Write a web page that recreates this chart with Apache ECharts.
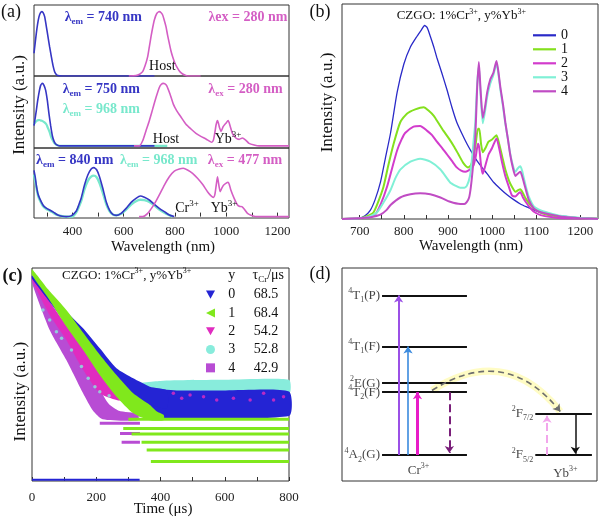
<!DOCTYPE html>
<html><head><meta charset="utf-8">
<script src="https://cdn.jsdelivr.net/npm/echarts@6/dist/echarts.min.js"></script>
<style>html,body{margin:0;padding:0;background:#fff}#c{width:600px;height:519px}</style>
</head><body><div id="c"></div>
<script>
const FONT = "'Liberation Serif','Times New Roman',serif";

// ================= Panel (a): excitation / emission spectra =================
const aTicks = [300,400,500,600,700,800,900,1000,1100,1200];
const aTickLabels = [400,600,800,1000,1200];
const aTopExcBlue = [[250,0.32],[259,0.6],[264,0.73],[269.6,0.836],[275,0.89],[281,0.906],[286,0.89],[291.6,0.836],[298,0.7],[304.5,0.554],[311,0.41],[317.6,0.274],[324,0.15],[330.5,0.061],[337,0.02],[343,0.005],[360,0],[720,0]];
const aTopEmMag = [[620,0],[648,0.005],[662,0.025],[674,0.061],[684,0.15],[693.6,0.272],[700,0.41],[706.6,0.554],[713,0.68],[719.6,0.789],[729,0.88],[739,0.906],[745,0.895],[752,0.859],[758,0.79],[765,0.695],[771,0.58],[778,0.46],[784,0.36],[791,0.272],[800,0.18],[810.5,0.108],[820,0.058],[830,0.028],[840,0.01],[849,0],[900,0]];
const aMidExcBlue = [[250,0.28],[259,0.49],[264,0.62],[269.6,0.74],[276,0.84],[282.6,0.868],[289,0.84],[295.6,0.77],[302,0.63],[308.6,0.44],[315,0.28],[321.6,0.14],[328,0.065],[334.6,0.026],[342,0.008],[350,0],[720,0]];
const aMidExcCyan = [[250,0.30],[256,0.33],[261.6,0.35],[267,0.357],[272,0.359],[278,0.35],[285,0.34],[291,0.325],[298,0.30],[304,0.25],[311,0.19],[317,0.12],[324,0.07],[330,0.035],[337,0.016],[345,0.005],[355,0],[770,0]];
const aMidEmMag = [[640,0],[661,0],[674,0.07],[687,0.21],[700,0.35],[713,0.51],[726,0.67],[739,0.81],[747,0.855],[754.6,0.868],[761,0.86],[767.6,0.836],[780.6,0.72],[793.6,0.58],[806.6,0.49],[823.5,0.40],[843,0.30],[862.5,0.234],[882,0.174],[901,0.132],[921,0.095],[935,0.065],[944,0.049],[950,0.08],[955,0.17],[961,0.30],[966,0.35],[970,0.31],[974,0.25],[980,0.20],[988,0.266],[998.6,0.313],[1007.6,0.35],[1015,0.28],[1024,0.174],[1037.5,0.109],[1050.5,0.09],[1063,0.109],[1076,0.08],[1089,0.035],[1109,0.012],[1128,0],[1245,0]];
const aBotExcBlue = [[250,0.66],[255,0.56],[259,0.45],[265,0.33],[272,0.26],[285,0.166],[298,0.12],[311,0.094],[327,0.06],[343,0.023],[360,0.005],[376,0],[395,0.01],[415,0.08],[425,0.17],[434,0.261],[447,0.451],[460,0.594],[473,0.68],[483.5,0.699],[495,0.666],[505.6,0.57],[518.5,0.404],[531.7,0.213],[544.6,0.094],[557.4,0.032],[570.6,0.018],[590,0.047],[609.5,0.118],[629,0.204],[648,0.261],[665,0.294],[680.7,0.275],[700,0.237],[719.6,0.175],[739,0.118],[758.7,0.07],[778,0.023],[797.5,0]];
const aBotExcCyan = [[250,0.6],[255,0.5],[260,0.4],[266,0.3],[272,0.24],[285,0.15],[298,0.11],[311,0.085],[327,0.05],[343,0.02],[360,0.005],[376,0],[400,0],[415,0.06],[425,0.14],[434,0.22],[447,0.39],[460,0.51],[473,0.57],[483.5,0.585],[495,0.56],[505.6,0.48],[518.5,0.34],[531.7,0.18],[544.6,0.08],[557.4,0.03],[570.6,0.02],[590,0.04],[609.5,0.1],[629,0.17],[648,0.22],[665,0.24],[680.7,0.235],[700,0.21],[719.6,0.16],[739,0.1],[758.7,0.055],[778,0.02],[790,0]];
const aBotEmMag = [[660,0],[674,0],[693.6,0.047],[713,0.142],[726,0.22],[739,0.309],[758.7,0.451],[778,0.57],[797.5,0.651],[817,0.68],[832.5,0.69],[849,0.666],[868.7,0.618],[888,0.547],[907.6,0.461],[927,0.356],[940,0.3],[950.4,0.275],[956,0.32],[961,0.45],[966,0.57],[970,0.48],[976.5,0.356],[982,0.4],[988,0.442],[998.6,0.475],[1007.6,0.49],[1012,0.46],[1018,0.38],[1031,0.261],[1044,0.166],[1053,0.145],[1061,0.142],[1070,0.109],[1083,0.047],[1102,0.013],[1121.6,0],[1245,0]];

// ================= Panel (b): emission spectra vs Yb content =================
const bNames = ['0','1','2','3','4'];
const bTicks = [700,750,800,850,900,950,1000,1050,1100,1150,1200];
const bTickLabels = [700,800,900,1000,1100,1200];
const bY0 = [[660,0],[690,0],[700,0.003],[712,0.015],[724,0.04],[735,0.09],[747,0.17],[758,0.28],[770,0.4],[785,0.59],[800,0.72],[815,0.8],[830,0.85],[840,0.88],[847,0.9],[853,0.89],[860,0.85],[868,0.8],[875,0.75],[886,0.68],[898,0.6],[909,0.52],[920,0.45],[931,0.4],[943,0.35],[954,0.31],[966,0.27],[977,0.24],[989,0.21],[1004,0.17],[1019,0.14],[1034,0.113],[1049,0.09],[1064,0.07],[1080,0.055],[1095,0.042],[1110,0.03],[1130,0.022],[1155,0.015],[1180,0.009],[1200,0.005],[1240,0.002]];
const bY1 = [[660,0],[700,0.003],[715,0.012],[731,0.03],[742,0.08],[754,0.15],[765,0.25],[777,0.35],[792,0.45],[807,0.49],[826,0.51],[845,0.52],[856,0.505],[868,0.48],[879,0.445],[890,0.41],[902,0.375],[913,0.34],[924,0.3],[935,0.26],[946,0.24],[952,0.25],[958,0.29],[963,0.35],[968,0.42],[971,0.42],[975,0.35],[979,0.31],[985,0.33],[992,0.36],[1000,0.37],[1010,0.39],[1016,0.35],[1023,0.29],[1030,0.23],[1038,0.18],[1045,0.15],[1053,0.127],[1060,0.135],[1064,0.138],[1070,0.12],[1076,0.096],[1085,0.07],[1094,0.05],[1110,0.03],[1125,0.02],[1150,0.012],[1170,0.008],[1200,0.004],[1240,0.002]];
const bY2 = [[660,0],[700,0.003],[720,0.01],[735,0.02],[748,0.07],[762,0.15],[774,0.24],[785,0.32],[795,0.37],[803,0.4],[822,0.43],[837,0.433],[853,0.41],[864,0.39],[875,0.36],[887,0.33],[898,0.3],[909,0.27],[920,0.24],[930,0.225],[939,0.22],[946,0.225],[952,0.235],[958,0.25],[963,0.29],[968,0.35],[971,0.33],[975,0.25],[979,0.21],[985,0.25],[992,0.3],[1000,0.33],[1010,0.375],[1016,0.33],[1023,0.26],[1030,0.2],[1038,0.15],[1045,0.11],[1053,0.105],[1060,0.12],[1064,0.125],[1070,0.1],[1076,0.08],[1085,0.055],[1094,0.035],[1110,0.018],[1130,0.01],[1150,0.005],[1200,0.002],[1240,0]];
const bY3 = [[660,0],[700,0.003],[720,0.01],[739,0.03],[755,0.08],[770,0.135],[781,0.19],[792,0.23],[815,0.267],[837,0.28],[860,0.267],[883,0.23],[905,0.17],[917,0.155],[928,0.145],[937,0.145],[943,0.155],[950,0.2],[954,0.27],[958,0.36],[962,0.45],[966,0.62],[970,0.71],[974,0.58],[979,0.445],[984,0.5],[989,0.57],[996,0.63],[1003,0.67],[1010,0.724],[1014,0.68],[1019,0.6],[1025,0.52],[1030,0.445],[1036,0.37],[1041,0.305],[1047,0.25],[1053,0.22],[1058,0.235],[1064,0.245],[1068,0.225],[1072,0.19],[1078,0.14],[1083,0.105],[1094,0.06],[1105,0.045],[1117,0.035],[1135,0.025],[1155,0.015],[1180,0.009],[1200,0.005],[1240,0.002]];
const bY4 = [[660,0],[700,0.003],[725,0.008],[747,0.02],[760,0.04],[770,0.065],[792,0.1],[815,0.115],[837,0.12],[860,0.115],[883,0.1],[905,0.08],[928,0.07],[937,0.07],[943,0.08],[948,0.1],[952,0.15],[957,0.25],[962,0.38],[966,0.6],[970,0.73],[974,0.6],[979,0.47],[984,0.52],[989,0.59],[996,0.65],[1003,0.68],[1010,0.735],[1014,0.69],[1019,0.61],[1025,0.53],[1030,0.45],[1036,0.37],[1041,0.3],[1047,0.24],[1053,0.2],[1058,0.21],[1064,0.22],[1068,0.2],[1072,0.17],[1078,0.125],[1083,0.09],[1094,0.05],[1105,0.035],[1117,0.028],[1135,0.02],[1155,0.012],[1180,0.007],[1200,0.004],[1240,0.001]];

// ================= Panel (c): decay curves (log intensity, arbitrary units 0-100) =================
const cNames = ['c0','c1','c2','c3','c4'];
const cLabels = ['0','1','2','3','4'];
const cTau = ['68.5','68.4','54.2','52.8','42.9'];
const cTicks = [0,100,200,300,400,500,600,700,800];
const cTickLabels = [0,200,400,600,800];
const cGreenUp = [[0,99.4],[50,90],[107,80.3],[160,69.5],[211,59.3],[263,49.8],[315,41.2],[367,35.7],[390,32.5],[410,31]];
const cGreenLo = [[0,96.7],[55,84.9],[107,72.5],[159,61.5],[211,49.8],[263,39.6],[315,31.8],[367,28.5],[410,28.5]];
const cBlueUp = [[0,96.5],[55,88],[107,79.5],[159,71.7],[211,62.3],[263,52.9],[315,48.2],[367,44.3],[420,42.5]];
const cBlueLo = [[0,95],[107,74],[211,55],[263,46],[315,40],[367,36],[420,34]];
const cBlueFloorUp = [[330,43],[450,42.5],[600,42.5],[800,42]];
const cBlueFloorLo = [[330,30.5],[800,30.5]];
const cCyanFloorUp = [[300,45],[400,47],[600,47.5],[800,47.5]];
const cCyanFloorLo = [[300,41],[800,41]];
const cMagUp = [[0,96.2],[55,84.2],[107,73.2],[159,62.3],[211,53.7],[263,45.9],[300,42]];
const cMagLo = [[0,94.4],[55,77.9],[107,66.2],[159,52.2],[211,41.2],[263,38],[300,37.5]];
const cPurUp = [[0,95],[55,78.7],[107,67],[159,53.7],[211,42.7],[240,36],[270,33],[330,31.5]];
const cPurLo = [[0,92.8],[55,70.9],[107,56.8],[159,41.2],[190,33],[220,29],[330,28.5]];
const cMagFloorPts = [[409,39.6],[440,41.2],[466,38.8],[492,40.4],[534,39.6],[575,38.0],[627,38.8],[679,38.0],[721,41.2],[752,38.0],[783,39.6]];
const cCyanPts = [[34,80.3],[55,75.6],[76,70.1],[92,67],[123,61.5],[154,53.7],[175,48.2],[196,44.3],[211,41.9],[240,40],[270,41],[300,43]];
const cGreenStripeLevel = [29.0,24.7,22.1,18.2,14.6,9.1];
const cGreenStripeStart = [300,284,310,341,357,370];
const cPurStripeLevel = [31.0,27.1,22.3,18.2];
const cPurStripeStart = [232,211,274,279];
const cPurStripeEnd = [316,336,336,336];
const cBlueZero = [[0,0.6],[335,0.6]];

// ================= Panel (d): energy level scheme (arbitrary units 0-100) =================
const dCrLevelE = [12.2, 41.7, 45.9, 63.1, 87.1];
const dCrLevelLabel = ['{s|4}A{b|2}(G)','{s|4}T{b|2}(F)','{s|2}E(G)','{s|4}T{b|1}(F)','{s|4}T{b|1}(P)'];
const dYbLevelE = [12.2, 31.5];
const dYbLevelLabel = ['{s|2}F{b|5/2}','{s|2}F{b|7/2}'];
const dTransX = [22.2, 25.9, 29.6, 42.1, 80.4, 91.5];
const dTransFrom = [12.2, 12.2, 12.2, 41.7, 12.2, 31.5];
const dTransTo = [87.1, 63.1, 41.7, 13.2, 30.6, 12.8];
const dTransferFrom = [35.3, 42.5];
const dTransferTo = [85.6, 32.6];
const dIonLabel = ['{m|Cr}{p|3+}','{m|Yb}{p|3+}'];
const dIonPos = [[30,5.0],[87.6,3.6]];

// ---------------- layout / styles ----------------
const D_CR_X = [15.7, 49.0], D_YB_X = [75.8, 98.0];
const BLUE_A='#3636c4', MAG_A='#d45ec4', CYAN_A='#78e8cc';
const BCOL = ['#2a2ac8','#84e01e','#d23ccc','#80f0d6','#c04cc4'];
const BW = [1.3,2,2,2,2];
const CCOL = ['#2424d4','#80e81c','#e02cc0','#88ecdc','#b84cd4'];
const TRANS_STYLE = [
  {color:'#9b50e6',width:2,type:'solid'},
  {color:'#3a8ade',width:1.6,type:'solid'},
  {color:'#e81cc8',width:3,type:'solid'},
  {color:'#7a1f7a',width:2,type:'dashed'},
  {color:'#f2a6ec',width:2,type:'dashed'},
  {color:'#111111',width:1.5,type:'solid'}
];

function line(data, xi, color, width, z) {
  return {type:'line', data, xAxisIndex:xi, yAxisIndex:xi, showSymbol:false, symbol:'none',
    smooth:0.2, lineStyle:{color, width}, itemStyle:{color}, z:z||2, silent:true};
}
function band(name, up, lo, color, z) {
  return {type:'custom', name, xAxisIndex:4, yAxisIndex:4, data:[[0,0]], z, silent:true,
    itemStyle:{color},
    renderItem(params, api) {
      const pts = up.map(p => api.coord(p)).concat(lo.slice().reverse().map(p => api.coord(p)));
      return {type:'polygon', shape:{points:pts, smooth:0.2}, style:{fill:color}};
    }};
}

const series = [];
// (a)
series.push(line(aTopExcBlue,0,BLUE_A,1.6));
series.push(line(aTopEmMag,0,MAG_A,1.6));
series.push(line(aMidExcCyan,1,CYAN_A,2.2));
series.push(line(aMidExcBlue,1,BLUE_A,1.6));
series.push(line(aMidEmMag,1,MAG_A,1.6));
series.push(line(aBotExcCyan,2,CYAN_A,2.4));
series.push(line(aBotExcBlue,2,BLUE_A,1.6));
series.push(line(aBotEmMag,2,MAG_A,1.6));
// (b)
[bY0,bY1,bY2,bY3,bY4].forEach((d,i) => {
  const s = line(d,3,BCOL[i],BW[i],2+i); s.name = bNames[i]; series.push(s);
});
// (c)
series.push(band('c3', cCyanFloorUp, cCyanFloorLo, CCOL[3], 2));
series.push(band('c0', cBlueFloorUp, cBlueFloorLo, CCOL[0], 3));
series.push({type:'scatter', xAxisIndex:4, yAxisIndex:4, data:cMagFloorPts, symbol:'circle', symbolSize:3.5, itemStyle:{color:CCOL[2]}, z:4, silent:true});
series.push(band('c4', cPurUp, cPurLo, CCOL[4], 5));
series.push(band('c2', cMagUp, cMagLo, CCOL[2], 6));
series.push({type:'scatter', xAxisIndex:4, yAxisIndex:4, data:cCyanPts, symbol:'circle', symbolSize:3.5, itemStyle:{color:CCOL[3]}, z:7, silent:true});
series.push(band('c0', cBlueUp, cBlueLo, CCOL[0], 8));
series.push(band('c1', cGreenUp, cGreenLo, CCOL[1], 9));
cPurStripeLevel.forEach((lv,i) => series.push({type:'line', xAxisIndex:4, yAxisIndex:4, data:[[cPurStripeStart[i],lv],[cPurStripeEnd[i],lv]], symbol:'none', lineStyle:{color:CCOL[4], width:3}, z:10, silent:true}));
cGreenStripeLevel.forEach((lv,i) => series.push({type:'line', xAxisIndex:4, yAxisIndex:4, data:[[cGreenStripeStart[i],lv],[800,lv]], symbol:'none', lineStyle:{color:CCOL[1], width:3}, z:10, silent:true}));
series.push({type:'line', xAxisIndex:4, yAxisIndex:4, data:cBlueZero, symbol:'none', lineStyle:{color:CCOL[0], width:2}, z:10, silent:true});
// (d)
const levelLines = dCrLevelE.map(e => ({coords:[[D_CR_X[0],e],[D_CR_X[1],e]]}))
  .concat(dYbLevelE.map(e => ({coords:[[D_YB_X[0],e],[D_YB_X[1],e]]})));
series.push({type:'lines', coordinateSystem:'cartesian2d', xAxisIndex:5, yAxisIndex:5, data:levelLines, symbol:'none', lineStyle:{color:'#111', width:2, opacity:1}, z:3, silent:true});
series.push({type:'lines', coordinateSystem:'cartesian2d', xAxisIndex:5, yAxisIndex:5, symbol:['none','none'],
  data:[{coords:[dTransferFrom,dTransferTo], lineStyle:{color:'rgba(255,252,190,0.9)', width:7, curveness:0.45, opacity:1}}], z:2, silent:true});
series.push({type:'lines', coordinateSystem:'cartesian2d', xAxisIndex:5, yAxisIndex:5, symbol:['none','arrow'], symbolSize:7,
  data: dTransX.map((x,i) => ({coords:[[x,dTransFrom[i]],[x,dTransTo[i]]], lineStyle:Object.assign({opacity:1}, TRANS_STYLE[i])}))
    .concat([{coords:[dTransferFrom,dTransferTo], lineStyle:{color:'#6e6e6e', width:1.6, type:[6,4], curveness:0.45, opacity:1}}]),
  z:4, silent:true});
const supRich = {s:{fontSize:8, fontFamily:FONT, verticalAlign:'top', lineHeight:8, color:'#111'}, b:{fontSize:8, fontFamily:FONT, verticalAlign:'bottom', lineHeight:8, color:'#111'}};
series.push({type:'scatter', xAxisIndex:5, yAxisIndex:5, symbolSize:0, silent:true,
  data: dCrLevelE.map((e,i) => ({value:[D_CR_X[0], e], label:{formatter:dCrLevelLabel[i]}}))
    .concat(dYbLevelE.map((e,i) => ({value:[D_YB_X[0], e], label:{formatter:dYbLevelLabel[i]}}))),
  label:{show:true, position:'left', distance:2, fontSize:13, fontFamily:FONT, color:'#111', lineHeight:17, rich:supRich}});
series.push({type:'scatter', xAxisIndex:5, yAxisIndex:5, symbolSize:0, silent:true,
  data: dIonPos.map((p,i) => ({value:p, label:{formatter:dIonLabel[i]}})),
  label:{show:true, position:'inside', rich:{m:{fontSize:13, fontFamily:FONT, color:'#111', lineHeight:17}, p:{fontSize:8, fontFamily:FONT, color:'#111', verticalAlign:'top', lineHeight:8}}}});

// ---------------- axes ----------------
const tickStyle = {inside:true, length:4, lineStyle:{color:'#333', width:1}};
const labStyle = {fontSize:13, color:'#222', fontFamily:FONT, formatter: v => String(v)};
const xAxis = [
  {gridIndex:0, type:'value', min:250, max:1245, show:false},
  {gridIndex:1, type:'value', min:250, max:1245, show:false},
  {gridIndex:2, type:'value', min:250, max:1245, axisLine:{show:false}, splitLine:{show:false},
    axisTick:Object.assign({customValues:aTicks}, tickStyle), axisLabel:Object.assign({customValues:aTickLabels, margin:7}, labStyle)},
  {gridIndex:3, type:'value', min:660, max:1240, axisLine:{show:false}, splitLine:{show:false},
    axisTick:Object.assign({customValues:bTicks}, tickStyle), axisLabel:Object.assign({customValues:bTickLabels, margin:6}, labStyle)},
  {gridIndex:4, type:'value', min:0, max:800, axisLine:{show:false}, splitLine:{show:false},
    axisTick:Object.assign({customValues:cTicks}, tickStyle), axisLabel:Object.assign({customValues:cTickLabels, margin:10}, labStyle)},
  {gridIndex:5, type:'value', min:0, max:100, show:false}
];
const yAxis = [
  {gridIndex:0, type:'value', min:0, max:1, show:false},
  {gridIndex:1, type:'value', min:-0.03, max:0.97, show:false},
  {gridIndex:2, type:'value', min:-0.02, max:0.98, show:false},
  {gridIndex:3, type:'value', min:0, max:1, show:false},
  {gridIndex:4, type:'value', min:0, max:100, show:false},
  {gridIndex:5, type:'value', min:0, max:100, show:false}
];
const grid = [
  {left:34, top:5, width:255, height:71},
  {left:34, top:76, width:255, height:72},
  {left:34, top:148, width:255, height:70},
  {left:342, top:4, width:256, height:215},
  {left:32, top:268, width:257, height:213},
  {left:342, top:268, width:255, height:213}
].map(g => Object.assign({show:true, borderColor:'#333', borderWidth:1, backgroundColor:'transparent', containLabel:false, outerBoundsMode:'none'}, g));

// ---------------- legends ----------------
const cIcons = ['path://M0,0L10,0L5,9Z','path://M10,0L10,10L0,5Z','path://M0,0L10,0L5,9Z','circle','rect'];
const legend = [
  {data:bNames.map((n,i) => ({name:n, icon:'rect', itemStyle:{color:BCOL[i]}})), left:533, top:28.3, orient:'vertical', padding:0, itemGap:0, itemWidth:23, itemHeight:2.2, selectedMode:false,
    textStyle:{fontFamily:FONT, fontSize:14, color:'#111', lineHeight:13.3}},
  {data:cNames.map((n,i) => ({name:n, icon:cIcons[i], itemStyle:{color:CCOL[i]}})), left:206, top:285.5, orient:'vertical', padding:0, itemGap:0,
    itemWidth:9, itemHeight:9, selectedMode:false,
    formatter: n => { const i = cNames.indexOf(n); return '{n|' + cLabels[i] + '}{t|' + cTau[i] + '}'; },
    textStyle:{fontFamily:FONT, fontSize:14, color:'#111', lineHeight:18.3,
      rich:{n:{width:23.4, align:'center', fontFamily:FONT, fontSize:14, color:'#111'}, t:{width:45, align:'center', fontFamily:FONT, fontSize:14, color:'#111'}}}}
];

// ---------------- texts ----------------
function T(x, y, text, o, rot) {
  return {type:'text', x, y, rotation:rot||0, silent:true, z:100,
    style:Object.assign({text, fill:'#111', fontFamily:FONT, fontSize:14, align:'center', verticalAlign:'middle'}, o||{})};
}
function lam(x, y, sub, rest, color) {
  const B = {fontFamily:FONT, fontSize:14, fontWeight:'bold', fill:color, lineHeight:18};
  return T(x, y, '{m|λ}{s|' + sub + '}{m|' + rest + '}', {fill:color, rich:{m:B, s:{fontFamily:FONT, fontSize:9, fontWeight:'bold', fill:color, verticalAlign:'bottom', lineHeight:9}}});
}
function sup(x, y, parts, size) {
  const M = {fontFamily:FONT, fontSize:size, fill:'#111', lineHeight:size+4};
  const P = {fontFamily:FONT, fontSize:Math.round(size*0.62), fill:'#111', verticalAlign:'top', lineHeight:Math.round(size*0.62)};
  return T(x, y, parts, {rich:{m:M, p:P}});
}
const texts = [
  T(11, 12.5, '(a)', {fontSize:18}),
  T(320, 12.5, '(b)', {fontSize:18}),
  T(12.5, 276.5, '(c)', {fontSize:18, fontWeight:'bold'}),
  T(320, 274.5, '(d)', {fontSize:18}),
  T(163, 247, 'Wavelength (nm)', {fontSize:15}),
  T(471, 246.5, 'Wavelength (nm)', {fontSize:15}),
  T(163, 509.5, 'Time (μs)', {fontSize:15}),
  T(20, 105, 'Intensity (a.u.)', {fontSize:17}, Math.PI/2),
  T(327.5, 102.5, 'Intensity (a.u.)', {fontSize:17}, Math.PI/2),
  T(20.8, 391.7, 'Intensity (a.u.)', {fontSize:17}, Math.PI/2),
  lam(103.3, 17, 'em', ' = 740 nm', BLUE_A),
  T(248, 17, 'λex = 280 nm', {fontWeight:'bold', fill:MAG_A}),
  T(162.3, 66.7, 'Host'),
  lam(101.3, 89, 'em', ' = 750 nm', BLUE_A),
  lam(101.3, 109, 'em', ' = 968 nm', CYAN_A),
  lam(245.5, 89, 'ex', ' = 280 nm', MAG_A),
  T(166, 139, 'Host'),
  sup(228, 139, '{m|Yb}{p|3+}', 14),
  lam(74.7, 160, 'em', ' = 840 nm', BLUE_A),
  lam(158.7, 160, 'em', ' = 968 nm', CYAN_A),
  lam(245, 160, 'ex', ' = 477 nm', MAG_A),
  sup(187, 208.3, '{m|Cr}{p|3+}', 14),
  sup(224, 208, '{m|Yb}{p|3+}', 14),
  sup(461.3, 16, '{m|CZGO: 1%Cr}{p|3+}{m|, y%Yb}{p|3+}', 13),
  sup(126.7, 275.7, '{m|CZGO: 1%Cr}{p|3+}{m|, y%Yb}{p|3+}', 13),
  T(231.7, 275.3, 'y', {fontSize:14}),
  T(268.3, 275.3, '{m|τ}{b|Cr}{m|/μs}', {rich:{m:{fontFamily:FONT, fontSize:14, fill:'#111', lineHeight:17}, b:{fontFamily:FONT, fontSize:9, fill:'#111', verticalAlign:'bottom', lineHeight:9}}})
];

const chart = echarts.init(document.getElementById('c'), null, {renderer:'canvas'});
chart.setOption({animation:false, textStyle:{fontFamily:FONT}, grid, xAxis, yAxis, legend, series, graphic:{elements:texts}});
</script></body></html>
